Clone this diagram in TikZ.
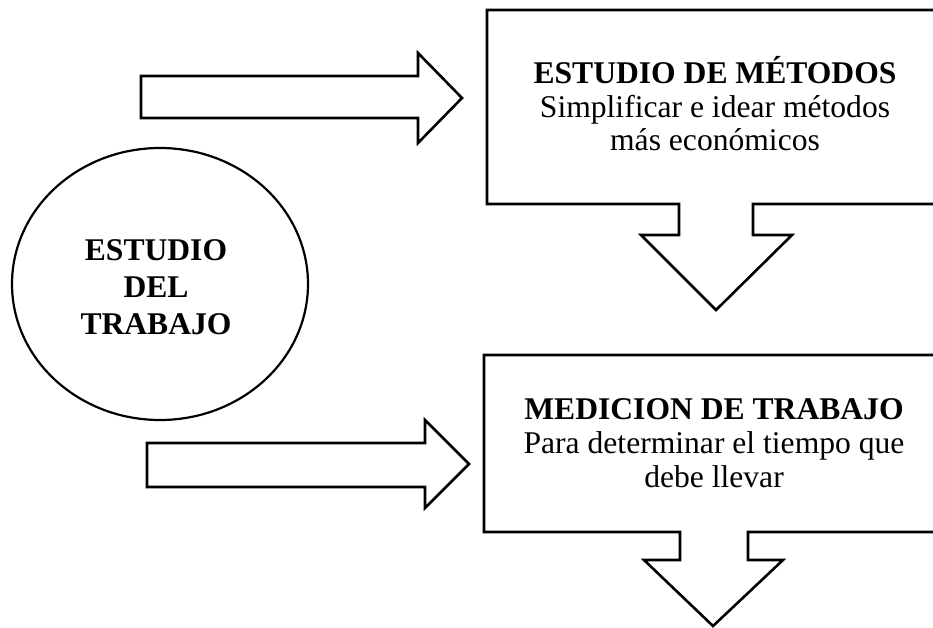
\documentclass[tikz,border=0pt]{standalone}
\usepackage{fontspec}
\setmainfont{Liberation Serif}
\usetikzlibrary{shapes.geometric}
\tikzset{
  shapeline/.style={draw=black, line width=2.6pt, line join=miter, fill=white},
  txt/.style={anchor=base, inner sep=0pt, font=\fontsize{31.6}{37}\selectfont},
  btxt/.style={txt, font=\fontsize{31.6}{37}\selectfont\bfseries},
}
\begin{document}
\begin{tikzpicture}[x=1pt, y=-1pt]
\useasboundingbox (0,0) rectangle (933,627);
\clip (0,0) rectangle (933,627);
\fill[white] (0,0) rectangle (933,627);

% circle
\node[ellipse, draw=black, line width=2.2pt, minimum width=296pt, minimum height=272pt, inner sep=0pt] (circ) at (160,284) {};
\node[btxt] (c1) at (156,260) {ESTUDIO};
\node[btxt] (c2) at (156,297) {DEL};
\node[btxt] (c3) at (156,334) {TRABAJO};

% top block arrow
\draw[shapeline] (141,76) -- (418,76) -- (418,53) -- (462,98) -- (418,143) -- (418,118) -- (141,118) -- cycle;
% bottom block arrow
\draw[shapeline] (147,443) -- (425,443) -- (425,420) -- (469,464) -- (425,508) -- (425,487) -- (147,487) -- cycle;

% box 1 callout
\draw[shapeline] (960,10) -- (487,10) -- (487,204) -- (679,204) -- (679,235) -- (641,235) -- (716,310) -- (792,235) -- (753,235) -- (753,204) -- (960,204) -- cycle;
\node[btxt] (t1) at (715,83) {ESTUDIO DE MÉTODOS};
\node[txt] (t2) at (715,117) {Simplificar e idear métodos};
\node[txt] (t3) at (715,150) {más económicos};

% box 2 callout
\draw[shapeline] (960,355) -- (484,355) -- (484,532) -- (680,532) -- (680,560) -- (644,560) -- (713,626) -- (783,560) -- (748,560) -- (748,532) -- (960,532) -- cycle;
\node[btxt] (m1) at (714,419) {MEDICION DE TRABAJO};
\node[txt] (m2) at (714,453) {Para determinar el tiempo que};
\node[txt] (m3) at (714,487) {debe llevar};
\end{tikzpicture}
\end{document}
